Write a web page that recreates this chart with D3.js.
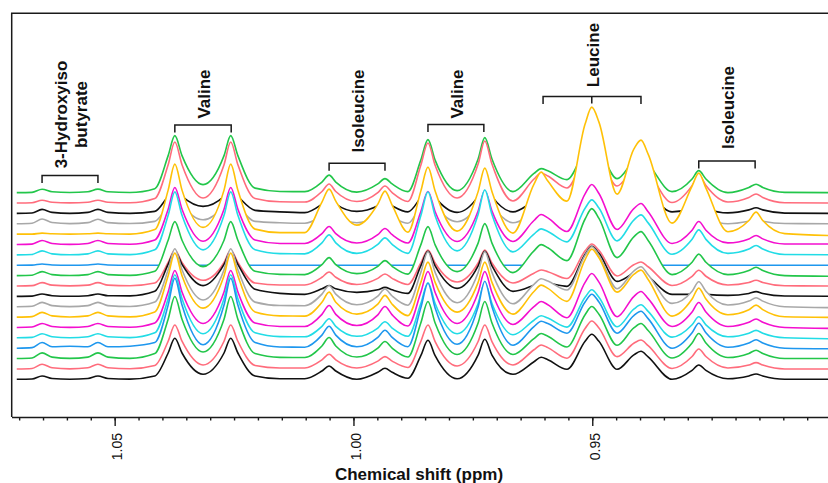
<!DOCTYPE html>
<html>
<head>
<meta charset="utf-8">
<script src="https://cdn.jsdelivr.net/npm/d3@7"></script>
<style>
  body { margin: 0; background: #fff; }
  svg { display: block; font-family: "Liberation Sans", Arial, sans-serif; }
  .trace { fill: none; stroke-width: 1.6; stroke-linejoin: round; }
  .mask { fill: #fff; stroke: none; }
  .frame { fill: none; stroke: #1a1a1a; stroke-width: 1.5; }
  .bracket { fill: none; stroke: #1a1a1a; stroke-width: 1.5; }
  .label { font-weight: bold; font-size: 17px; fill: #111; }
  .axis text { font-size: 14px; fill: #111; }
  .axis path, .axis line { stroke: #1a1a1a; stroke-width: 1.4; }
  .axis-title { font-weight: bold; font-size: 17px; fill: #111; }
</style>
</head>
<body>
<div id="chart"></div>
<script>
// Stacked 1H NMR spectra, 0.90-1.07 ppm region, 19 samples.
// Each spectrum at the same chemical-shift knots
// (peak tops, flanks and valleys), intensity in arbitrary units.
// Front (lower) spectra hide the parts of the ones behind them.

const shifts = [1.0705, 1.0673, 1.0652, 1.0631, 1.0594, 1.0556, 1.0535, 1.0514, 1.0468, 1.0416,
  1.0388, 1.0374, 1.0359, 1.0315, 1.0271, 1.0257, 1.0242, 1.0206, 1.0154, 1.0102,
  1.0066, 1.0051, 1.0037, 0.9993, 0.9949, 0.9934, 0.9919, 0.9886,
  0.9859, 0.9844, 0.9829, 0.9783, 0.9739, 0.9725, 0.9710, 0.9666,
  0.9622, 0.9607, 0.9593, 0.9553, 0.9515, 0.9501, 0.9486, 0.9448, 0.9413, 0.9398, 0.9383, 0.9333,
  0.9291, 0.9277, 0.9262, 0.9216, 0.9172, 0.9157, 0.9143, 0.9097, 0.8990];

// back (top of the stack) first
const spectrum01 = [0, 0.3, 3.4, 0.9, 0.1, 0.9, 3.5, 0.9, 0.2, 4,
  37, 57, 37, 8, 37, 57, 37, 4.5, 1.2, 1,
  10.6, 17.5, 10.6, 0.5, 8.7, 14, 8.7, 1,
  32.5, 53, 32.5, 2, 33.7, 55, 33.7, 1,
  19.2, 24, 21.8, 13, 42.6, 50, 42.8, 14, 31.6, 36, 28.8, 1,
  13.6, 22, 13.6, 0, 5.2, 8.4, 5.2, 0.3, 0];
const spectrum02 = [0, 0.3, 2.7, 0.7, 0.1, 0.7, 2.7, 0.7, 0.2, 4.5,
  38.3, 61, 38.3, 5, 38.3, 61, 38.3, 4.5, 1.2, 1,
  11.5, 19, 11.5, 1.5, 10.4, 17, 10.4, 1.5,
  37.7, 60, 37.7, 5, 38.9, 62, 38.9, 2,
  24, 30, 27, 15, 47, 55, 47.4, 17, 35.4, 40, 32, 0.5,
  17.4, 28, 17.4, 1, 5.6, 9, 5.6, 0.3, 0];
const spectrum03 = [0, 0.4, 4, 1, 0, 1, 4, 1, 0, 2,
  17, 24, 17, 7, 17, 24, 17, 3, 1.5, 0.8,
  9.3, 15, 9.3, 2, 7.6, 12, 7.6, 1.5,
  16, 26, 16, 1, 17, 28, 17, 1.5,
  12, 15, 13.2, 6, 29.2, 35, 29.6, 8, 21.6, 25, 20, 1.5,
  5, 8, 5, 0.5, 3.5, 5.6, 3.5, 0.3, 0];
const spectrum04 = [0, 0.5, 4.7, 1.2, 0.1, 1.1, 4.5, 1.1, 0.2, 2.4,
  19.3, 30, 19.3, 4, 19.3, 30, 19.3, 2.4, 1, 0.5,
  7.6, 12, 7.6, 1, 6.5, 10, 6.5, 0.5,
  18.7, 30, 18.7, 2, 18.7, 30, 18.7, 1,
  9.6, 12, 10.6, 5, 25, 30, 25.2, 6, 17.2, 20, 16, 0.5,
  5, 8, 5, 0, 2.5, 4, 2.5, 0.2, 0];
const spectrum05 = [0, 0, 1, 0.3, 0, 0.3, 1, 0.3, 0, 4.5,
  44, 70, 44, 6.7, 44, 70, 44, 5, 1.5, 1.5,
  32, 45, 33, 9, 30, 43, 29, 2,
  43, 67, 43, 3, 42.5, 66, 42.5, 1,
  50, 62, 53, 33, 110, 127, 112, 40, 85, 94, 80, 11,
  48, 61, 46, 2.4, 13.6, 22, 13.6, 0.5, -1.5];
const spectrum06 = [0, 0.4, 4, 1, 0.1, 1, 4, 1, 0.2, 4.5,
  35.3, 57, 35.3, 3.3, 35.3, 57, 35.3, 4.5, 1, 1,
  10.9, 18, 10.9, 1.5, 9.8, 16, 9.8, 1.5,
  32.8, 53, 32.8, 3, 33.4, 54, 33.4, 3,
  24, 30, 26.6, 13, 50.6, 60, 51, 15, 35.8, 41, 32.8, 1,
  14.3, 23, 14.3, 1.6, 5.6, 9, 5.6, 0.5, 0.5];
const spectrum07 = [0, 0.4, 4, 1, 0.1, 1, 4, 1, 0.2, 5,
  39.5, 63, 39.5, 5, 39.5, 63, 39.5, 5, 1.2, 1,
  12, 20, 12, 1.5, 10.4, 17, 10.4, 1.5,
  39.1, 63, 39.1, 4, 40.3, 65, 40.3, 3,
  20.8, 26, 23.4, 13, 46.6, 55, 46.8, 14, 34.8, 40, 32, 0.6,
  15.5, 25, 15.5, 1.5, 5.8, 9.3, 5.8, 0.3, 0];
const spectrum08 = [0, 0.1, 1.3, 0.3, 0, 0.3, 1.3, 0.3, 0, 0,
  0, 0, 0, 0, 0, 0, 0, 0, 0, 0,
  0, 0, 0, 0, 0, 0, 0, 0,
  0, 0, 0, 0, 0, 0, 0, 0,
  0, 0, 0, 0, 0, 0, 0, 0, 0, 0, 0, 0,
  0, 0, 0, 0, 0, 0, 0, 0, 0];
const spectrum09 = [0, 0.4, 4, 1, 0.1, 1, 4, 1, 0.2, 4.3,
  35.4, 54, 35.4, 9, 35.4, 54, 35.4, 4.3, 1.2, 1,
  10.9, 18, 10.9, 2, 9.3, 15, 9.3, 1.5,
  30.7, 49, 30.7, 4, 32.5, 52, 32.5, 3,
  24.8, 31, 27.8, 15, 56.6, 67, 57.2, 18, 38.8, 44, 35.2, 1,
  13.3, 21.5, 13.3, 1, 5.1, 8.3, 5.1, 0, -0.7];
const spectrum10 = [0, 0.3, 3.3, 0.8, 0.1, 0.8, 3.3, 0.8, 0.2, 2.9,
  23.5, 36, 23.5, 5.7, 23.5, 36, 23.5, 2.9, 1, 1,
  8.7, 14, 8.7, 1.5, 7.6, 12, 7.6, 1.5,
  23, 36, 23, 4, 23, 36, 23, 3,
  12.8, 16, 14.3, 7.4, 35.1, 42, 35.6, 10, 21.2, 24, 19.2, 0.5,
  9.7, 15.7, 9.7, 1, 3.5, 5.7, 3.5, 0.2, 0];
const spectrum11 = [0, 0.2, 2.3, 0.6, 0.1, 0.6, 2.3, 0.6, 0.5, 5,
  32, 45, 32, 10.7, 32, 45, 32, 7, 3, 2,
  7.5, 10.7, 7.5, 4, 6.5, 9, 6.5, 3,
  30.5, 45, 30.5, 8, 30.5, 45, 30.5, 5,
  11.2, 14, 13.2, 10, 42, 50, 43, 15, 23, 25, 20, 2,
  2, 3, 2, 1, 2.9, 4.7, 2.9, 0.3, 0];
const spectrum12 = [0, 0.4, 4.3, 1.1, 0.1, 1.1, 4.3, 1.1, 0.2, 4.6,
  37, 58, 37, 6.7, 37, 58, 37, 4.6, 1.2, 1,
  12.6, 21, 12.6, 2, 10.7, 17.7, 10.7, 1.5,
  34.3, 55, 34.3, 4, 34.3, 55, 34.3, 3,
  22.4, 28, 25.7, 16.7, 51.3, 60, 51.6, 18, 35.6, 40, 32, 3.3,
  15.5, 25, 15.5, 1.7, 5.6, 9, 5.6, 0, -1];
const spectrum13 = [0, 0.5, 4.7, 1.2, 0.1, 1.2, 4.7, 1.2, 0.2, 5.1,
  41.4, 64, 41.4, 9, 41.4, 64, 41.4, 5.1, 1.2, 1,
  14.8, 25, 14.8, 3, 12.9, 21.7, 12.9, 1.5,
  34.7, 55, 34.7, 5, 34.7, 55, 34.7, 3,
  25.6, 32, 28.7, 15.7, 57.5, 68, 59.4, 25, 42.6, 47, 37.6, 1,
  18, 29, 18, 2.4, 7.4, 12, 7.4, 0.3, -0.3];
const spectrum14 = [0, 0.4, 4, 1, 0.1, 1, 4, 1, 0.2, 4.5,
  35.5, 57, 35.5, 4, 35.5, 57, 35.5, 4.5, 1, 1,
  13.1, 22, 13.1, 2, 12.6, 21, 12.6, 1.5,
  35, 56, 35, 4, 35, 56, 35, 3,
  20.8, 26, 22.7, 9.7, 45.1, 54, 45.3, 10.7, 30.9, 36, 28.8, 1,
  15.5, 25, 15.5, 1, 5.2, 8.4, 5.2, 0, -1];
const spectrum15 = [0, 0.4, 4, 1, 0.1, 1, 4, 1, 0.2, 5,
  39.1, 63, 39.1, 4, 39.1, 63, 39.1, 5, 1.2, 1,
  11.5, 19, 11.5, 1.5, 9.8, 16, 9.8, 1.5,
  34.3, 55, 34.3, 4, 34.3, 55, 34.3, 3,
  17.6, 22, 19.7, 10.7, 40.5, 48, 40.6, 11, 28.6, 33, 26.4, 0.7,
  13, 21, 13, 1, 4.6, 7.4, 4.6, 0, -1];
const spectrum16 = [0, 0.6, 5.7, 1.4, 2, 1.4, 5.7, 1.4, 2, 5.6,
  43.1, 70, 43.1, 3.4, 43.1, 70, 43.1, 5.6, 1.2, 1,
  13.1, 22, 13.1, 1.5, 10.9, 18, 10.9, 1.5,
  40.3, 65, 40.3, 4, 41.5, 67, 41.5, 3,
  21.6, 27, 24.6, 15, 46.2, 54, 46.2, 15, 32.6, 37, 29.6, 0,
  15.5, 25, 15.5, 1, 5.2, 8.4, 5.2, 0, -0.6];
const spectrum17 = [0, 0.6, 5.7, 1.4, 0.2, 1.4, 5.7, 1.4, 0.2, 5,
  39.4, 62, 39.4, 6.6, 39.4, 62, 39.4, 5, 1.2, 1,
  12.6, 21, 12.6, 1.5, 10.4, 17, 10.4, 1.5,
  35.5, 57, 35.5, 4, 35.5, 57, 35.5, 4,
  20, 25, 22.3, 11.6, 43.9, 52, 44.3, 13.3, 30.7, 35, 28, 0.5,
  15.5, 25, 15.5, 1, 5.1, 8.3, 5.1, 0, 0];
const spectrum18 = [0, 0.5, 4.7, 1.2, 0.1, 1.2, 4.7, 1.2, 0.2, 3.5,
  27.7, 44, 27.7, 4, 27.7, 44, 27.7, 3.5, 1, 1,
  9.1, 14.7, 9.1, 1, 7.8, 12.3, 7.8, 1.5,
  27.4, 44, 27.4, 3, 27.4, 44, 27.4, 4,
  19.2, 24, 21.3, 10.7, 40.5, 48, 40.9, 12.3, 25.7, 29, 23.2, 0.5,
  12.4, 20, 12.4, 1, 3.9, 6.3, 3.9, 0, 0];
const spectrum19 = [0, 0.3, 3.3, 0.8, 0.1, 0.8, 3.3, 0.8, 0.2, 3.3,
  26.3, 41, 26.3, 5, 26.3, 41, 26.3, 3.3, 0.5, 0.5,
  8.3, 13.3, 8.3, 0, 7, 11, 7, 1,
  23.6, 39, 23.6, 0.5, 24.2, 40, 24.2, 5,
  17.6, 22, 19.6, 10, 38, 45, 38, 10, 24.4, 28, 22.4, 0,
  8.9, 14.3, 8.9, 0.5, 3.3, 5.3, 3.3, 0, 0];

const spectra = [spectrum01, spectrum02, spectrum03, spectrum04, spectrum05, spectrum06, spectrum07,
  spectrum08, spectrum09, spectrum10, spectrum11, spectrum12, spectrum13, spectrum14, spectrum15,
  spectrum16, spectrum17, spectrum18, spectrum19];

const palette = ["#22c64a", "#ff6c7c", "#111111", "#a8a8a8", "#ffc107", "#f40fcf", "#22dce6", "#1e97ee"];

const majorTicks = [1.05, 1.00, 0.95, 0.90];
const tickLabels = ["1.05", "1.00", "0.95", "0.90"];

const compoundNames = [["3-Hydroxyiso", "butyrate"], ["Valine"], ["Isoleucine"], ["Valine"], ["Leucine"], ["Isoleucine"]];
const compoundShifts = [[1.0652, 1.0535], [1.0374, 1.0256], [1.0051, 0.9934], [0.9844, 0.9727], [0.9603, 0.9398], [0.9277, 0.9159]];
const leucineCentre = 0.9501;

// layout
const width = 828;
const height = 483;
const frame = { left: 11.7, top: 13.3, bottom: 417 };
const stackStep = 10.37;
const bracketY = [175.5, 125, 163.3, 124.5, 96.5, 161];
const labelMidY = [114.5, 94, 111, 94, 55, 107.5];

const svg = d3.select("#chart")
  .append("svg")
  .attr("width", width)
  .attr("height", height)
  .attr("viewBox", `0 0 ${width} ${height}`);

const x = d3.scaleLinear()
  .domain([1.0716, 0.8975])
  .range([11.5, 843]);

// 1 intensity unit = 1 px; front spectrum sits at y = 379.3
const y = d3.scaleLinear()
  .domain([0, 300])
  .range([379.3, 79.3]);

const n = spectra.length;

const line = d3.line()
  .x(d => x(d.shift))
  .y(d => y(d.value))
  .curve(d3.curveMonotoneX);

// white area under each trace = hidden-line removal for the traces behind
const mask = d3.area()
  .x(d => x(d.shift))
  .y0(frame.bottom - 2)
  .y1(d => y(d.value))
  .curve(d3.curveMonotoneX);

spectra.forEach((spec, i) => {
  const offset = (n - 1 - i) * stackStep;
  const pts = spec.map((v, k) => ({ shift: shifts[k], value: v + offset }));
  const g = svg.append("g");
  g.append("path")
    .datum(pts)
    .attr("class", "mask")
    .attr("d", mask);
  g.append("path")
    .datum(pts)
    .attr("class", "trace")
    .attr("stroke", palette[i % palette.length])
    .attr("d", line);
});

// frame (left and top; bottom comes from the axis)
svg.append("path")
  .attr("class", "frame")
  .attr("d", `M${frame.left},${frame.bottom} V${frame.top} H${width + 10}`);

// minor ticks every 0.005 ppm
const minorTicks = d3.range(0, 35).map(i => +(1.07 - i * 0.005).toFixed(3));

svg.append("g")
  .attr("class", "axis")
  .attr("transform", `translate(0, ${frame.bottom})`)
  .call(d3.axisBottom(x).tickValues(minorTicks).tickSize(3.5).tickSizeOuter(0).tickFormat(""));

const major = svg.append("g")
  .attr("class", "axis")
  .attr("transform", `translate(0, ${frame.bottom})`)
  .call(d3.axisBottom(x).tickValues(majorTicks).tickSize(9).tickSizeOuter(0)
    .tickFormat((d, i) => tickLabels[i]));

major.select(".domain").remove();
major.selectAll("text")
  .attr("transform", "rotate(-90)")
  .attr("x", -16)
  .attr("y", 0)
  .attr("dy", "0.5em")
  .style("text-anchor", "end");

svg.append("text")
  .attr("class", "axis-title")
  .attr("x", 419)
  .attr("y", 480)
  .attr("text-anchor", "middle")
  .text("Chemical shift (ppm)");

// compound brackets and labels
compoundShifts.forEach((range, i) => {
  const x0 = x(range[0]);
  const x1 = x(range[1]);
  const by = bracketY[i];
  let d = `M${x0},${by + 7.5} V${by} H${x1} V${by + 7.5}`;
  if (compoundNames[i][0] === "Leucine") {
    d += ` M${x(leucineCentre)},${by} V${by + 7}`;
  }
  svg.append("path").attr("class", "bracket").attr("d", d);

  const names = compoundNames[i];
  const cx = (x0 + x1) / 2 + 1;
  names.forEach((name, j) => {
    const lx = cx + (j - (names.length - 1) / 2) * 20;
    svg.append("text")
      .attr("class", "label")
      .attr("transform", `translate(${lx}, ${labelMidY[i]}) rotate(-90)`)
      .attr("text-anchor", "middle")
      .attr("dy", "0.35em")
      .text(name);
  });
});
</script>
</body>
</html>
